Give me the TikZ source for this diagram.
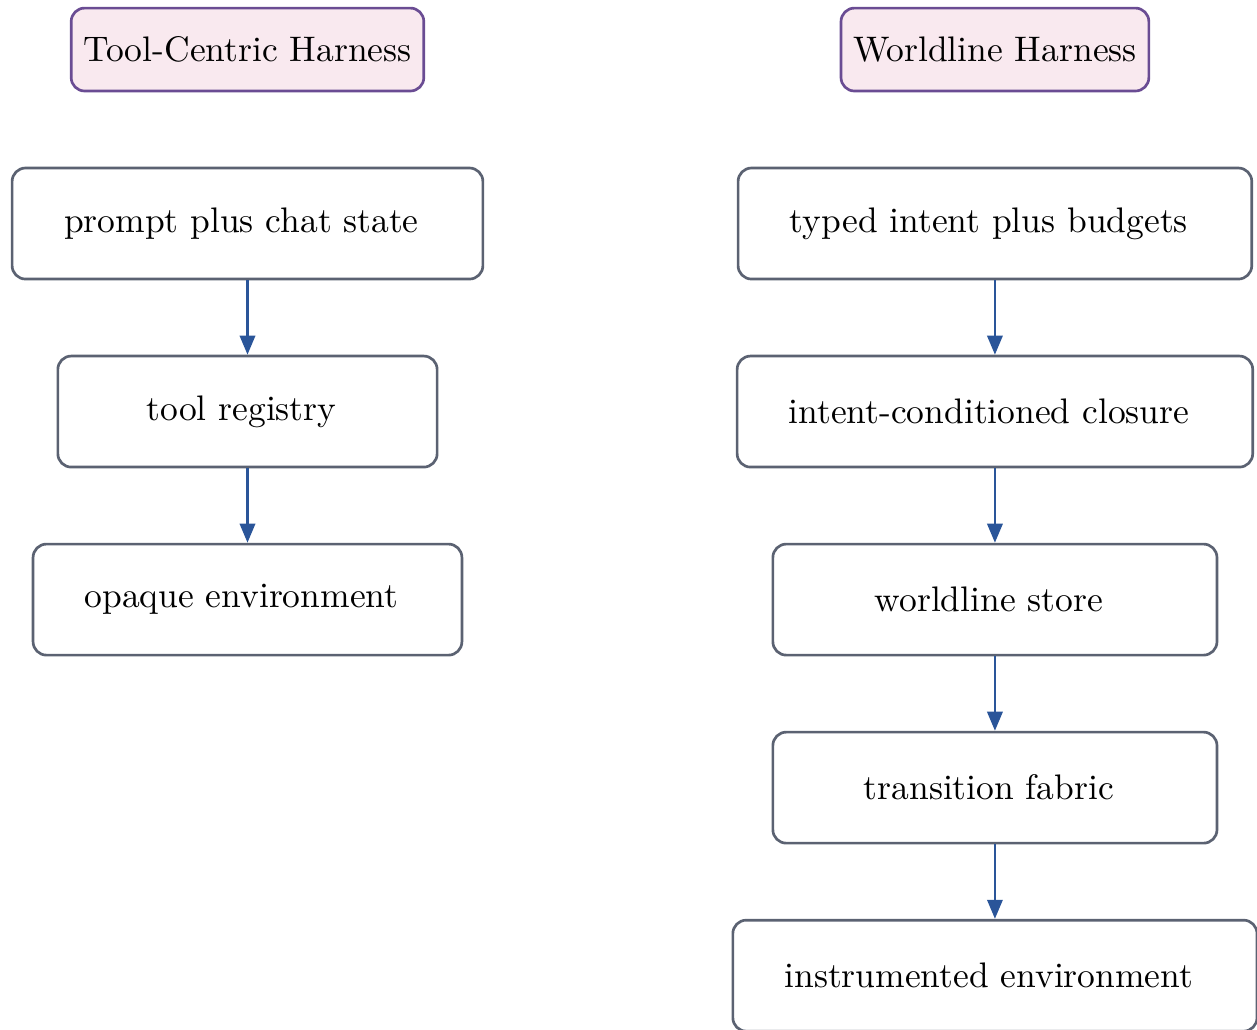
\documentclass[tikz,border=0pt]{standalone}
\usepackage{xcolor}
\definecolor{hpurple}{HTML}{6A4C93}
\definecolor{hpink}{HTML}{F9E9EF}
\definecolor{bgrey}{HTML}{5B6272}
\definecolor{ablue}{HTML}{2A5599}
\usepackage{tikz}
\usetikzlibrary{arrows.meta, positioning}

\begin{document}
\begin{tikzpicture}[
  node distance=0.78cm,
  every node/.style={font=\fontsize{10.6pt}{12.7pt}\selectfont},
  header/.style={rectangle, rounded corners=4pt, draw=hpurple, fill=hpink, thick,
    minimum height=0.87cm, align=center},
  stage/.style={rectangle, rounded corners=4pt, draw=bgrey, fill=white, thick,
    minimum height=1.165cm, align=center, execute at end node={\hspace*{3.6pt}}},
  arrow/.style={-{Triangle[length=2mm, width=1.6mm]}, thick, draw=ablue}
]
\useasboundingbox (0,0) rectangle (13.19,-10.80);
% left column
\node[header, minimum width=3.70cm] (toolh) at (2.597,-0.52) {Tool-Centric Harness};
\node[stage, minimum width=4.94cm, below=of toolh] (prompt) {prompt plus chat state};
\node[stage, minimum width=3.98cm, below=of prompt] (registry) {tool registry};
\node[stage, minimum width=4.50cm, below=of registry] (opaque) {opaque environment};
% right column
\node[header, minimum width=3.23cm] (worldh) at (10.44,-0.52) {Worldline Harness};
\node[stage, minimum width=5.39cm, below=of worldh] (intent) {typed intent plus budgets};
\node[stage, minimum width=5.41cm, below=of intent] (closure) {intent-conditioned closure};
\node[stage, minimum width=4.66cm, below=of closure] (store) {worldline store};
\node[stage, minimum width=4.66cm, below=of store] (fabric) {transition fabric};
\node[stage, minimum width=5.50cm, below=of fabric] (instr) {instrumented environment};
\draw[arrow] (prompt) -- (registry);
\draw[arrow] (registry) -- (opaque);
\draw[arrow] (intent) -- (closure);
\draw[arrow] (closure) -- (store);
\draw[arrow] (store) -- (fabric);
\draw[arrow] (fabric) -- (instr);
\end{tikzpicture}
\end{document}
